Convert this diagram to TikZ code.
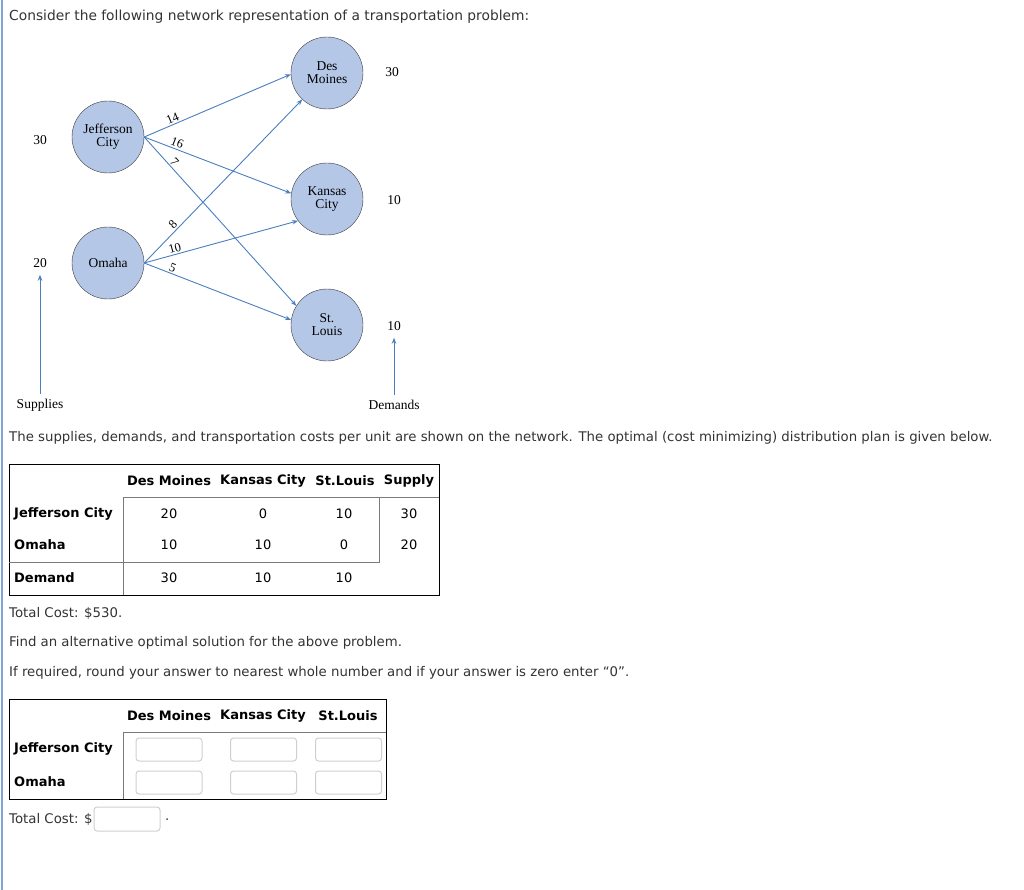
\documentclass[tikz,border=0pt]{standalone}
\usepackage{fontspec}
\setmainfont{DejaVu Sans}
\newfontfamily\netfont{Liberation Serif}
\usetikzlibrary{arrows.meta,positioning}
\definecolor{netblue}{HTML}{4A7FBE}
\definecolor{cityfill}{HTML}{B4C7E7}
\definecolor{citydraw}{HTML}{3C3C3C}
\definecolor{sidebar}{HTML}{7FA5DD}
\definecolor{textgrey}{HTML}{333333}
\definecolor{rulegrey}{HTML}{7A7A7A}
\definecolor{boxgrey}{HTML}{CFCFCF}
\tikzset{
  city/.style={circle, draw=citydraw, fill=cityfill, minimum size=72pt, inner sep=0pt,
               align=center, font=\netfont\fontsize{13.5}{13}\selectfont},
  route/.style={-{Stealth[length=6pt,width=4.5pt]}, draw=netblue, line width=0.9pt},
  cost/.style={font=\netfont\fontsize{12.5}{12}\selectfont, sloped, above, pos=0.21, inner sep=1.5pt},
  amount/.style={font=\netfont\fontsize{13.5}{13}\selectfont, inner sep=1pt},
  qline/.style={anchor=west, font=\fontsize{13.3}{15}\selectfont, text=textgrey, inner sep=0pt},
  head/.style={font=\bfseries\fontsize{13}{15}\selectfont, inner sep=0pt},
  rowlbl/.style={anchor=west, font=\bfseries\fontsize{13}{15}\selectfont, inner sep=0pt},
  cell/.style={font=\fontsize{13}{15}\selectfont, inner sep=0pt},
  entry/.style={draw=boxgrey, rounded corners=3pt, line width=1pt, minimum width=66pt,
                minimum height=23pt, inner sep=0pt},
}
\begin{document}
\begin{tikzpicture}[x=1pt, y=-1pt]
\useasboundingbox (0,0) rectangle (1024,890);
\draw[sidebar, line width=1.5pt] (2,0) -- (2,890);

\node[qline, font=\fontsize{13.8}{15}\selectfont] (intro) at (9,17) {Consider the following network representation of a transportation problem:};

% network
\node[city] (jc) at (108,137) {Jefferson\\City};
\node[city] (om) at (108,263) {Omaha};
\node[city] (dm) at (327,73) {Des\\Moines};
\node[city] (kc) at (327,199) {Kansas\\City};
\node[city] (sl) at (327,325) {St.\\Louis};

\node[amount] (sup1) at (40,140) {30};
\node[amount] (sup2) at (40,263) {20};
\node[amount] (dem1) at (392,72) {30};
\node[amount] (dem2) at (394,200) {10};
\node[amount] (dem3) at (394,326) {10};
\node[amount] (supl) at (40,405) {Supplies};
\node[amount] (deml) at (394,405) {Demands};

\draw[route] (jc.east) -- node[cost] {14} (dm.182);
\draw[route] (jc.east) -- node[cost] {16} (kc.171);
\draw[route] (jc.east) -- node[cost, pos=0.17] {7} (sl.148);
\draw[route] (om.east) -- node[cost] {8} (dm.227);
\draw[route] (om.east) -- node[cost] {10} (kc.217);
\draw[route] (om.east) -- node[cost, pos=0.18] {5} (sl.172);
\draw[route] (supl.north) ++(0,-4) -- ([yshift=-6pt]sup2.south);
\draw[route] (deml.north) ++(0,-4) -- ([yshift=-6pt]dem3.south);

\node[qline] (given) at (9,438) {The supplies, demands, and transportation costs per unit are shown on the network. The optimal (cost minimizing) distribution plan is given below.};

% optimal plan
\draw[line width=0.8pt] (9,464) rectangle (439,595);
\draw[rulegrey, line width=0.8pt] (123,595) -- (123,497) -- (439,497);
\draw[rulegrey, line width=0.8pt] (9,562) -- (379,562) -- (379,497);
\node[head] (pdm) at (169,481) {Des Moines};
\node[head] (pkc) at (263,481) {Kansas City};
\node[head] (psl) at (345,481) {St.Louis};
\node[head] (psu) at (409,481) {Supply};
\node[rowlbl] (pjc) at (14,514) {Jefferson City};
\node[rowlbl] (pom) at (14,545) {Omaha};
\node[rowlbl] (pde) at (14,578) {Demand};
\node[cell] (x11) at (169,514) {20};
\node[cell] (x12) at (263,514) {0};
\node[cell] (x13) at (344,514) {10};
\node[cell] (s1) at (409,514) {30};
\node[cell] (x21) at (169,545) {10};
\node[cell] (x22) at (263,545) {10};
\node[cell] (x23) at (344,545) {0};
\node[cell] (s2) at (409,545) {20};
\node[cell] (d1) at (169,578) {30};
\node[cell] (d2) at (263,578) {10};
\node[cell] (d3) at (344,578) {10};

\node[qline] (cost) at (9,613) {Total Cost: \$530.};
\node[qline] (find) at (9,643) {Find an alternative optimal solution for the above problem.};
\node[qline] (round) at (9,673) {If required, round your answer to nearest whole number and if your answer is zero enter “0”.};

% answer table
\draw[line width=0.8pt] (9,699) rectangle (386,799);
\draw[rulegrey, line width=0.8pt] (123,799) -- (123,732) -- (386,732);
\node[head] (adm) at (169,716) {Des Moines};
\node[head] (akc) at (263,716) {Kansas City};
\node[head] (asl) at (348,716) {St.Louis};
\node[rowlbl] (ajc) at (14,749) {Jefferson City};
\node[rowlbl] (aom) at (14,782) {Omaha};
\node[entry] (y11) at (169,749.5) {};
\node[entry] (y12) at (263.5,749.5) {};
\node[entry] (y13) at (348.5,749.5) {};
\node[entry] (y21) at (169,782.5) {};
\node[entry] (y22) at (263.5,782.5) {};
\node[entry] (y23) at (348.5,782.5) {};

\node[qline] (tc) at (9,819) {Total Cost: \$};
\node[entry, minimum height=24pt] (tcbox) at (127,819) {};
\node[qline] (dot) at (165,820) {.};
\end{tikzpicture}
\end{document}
